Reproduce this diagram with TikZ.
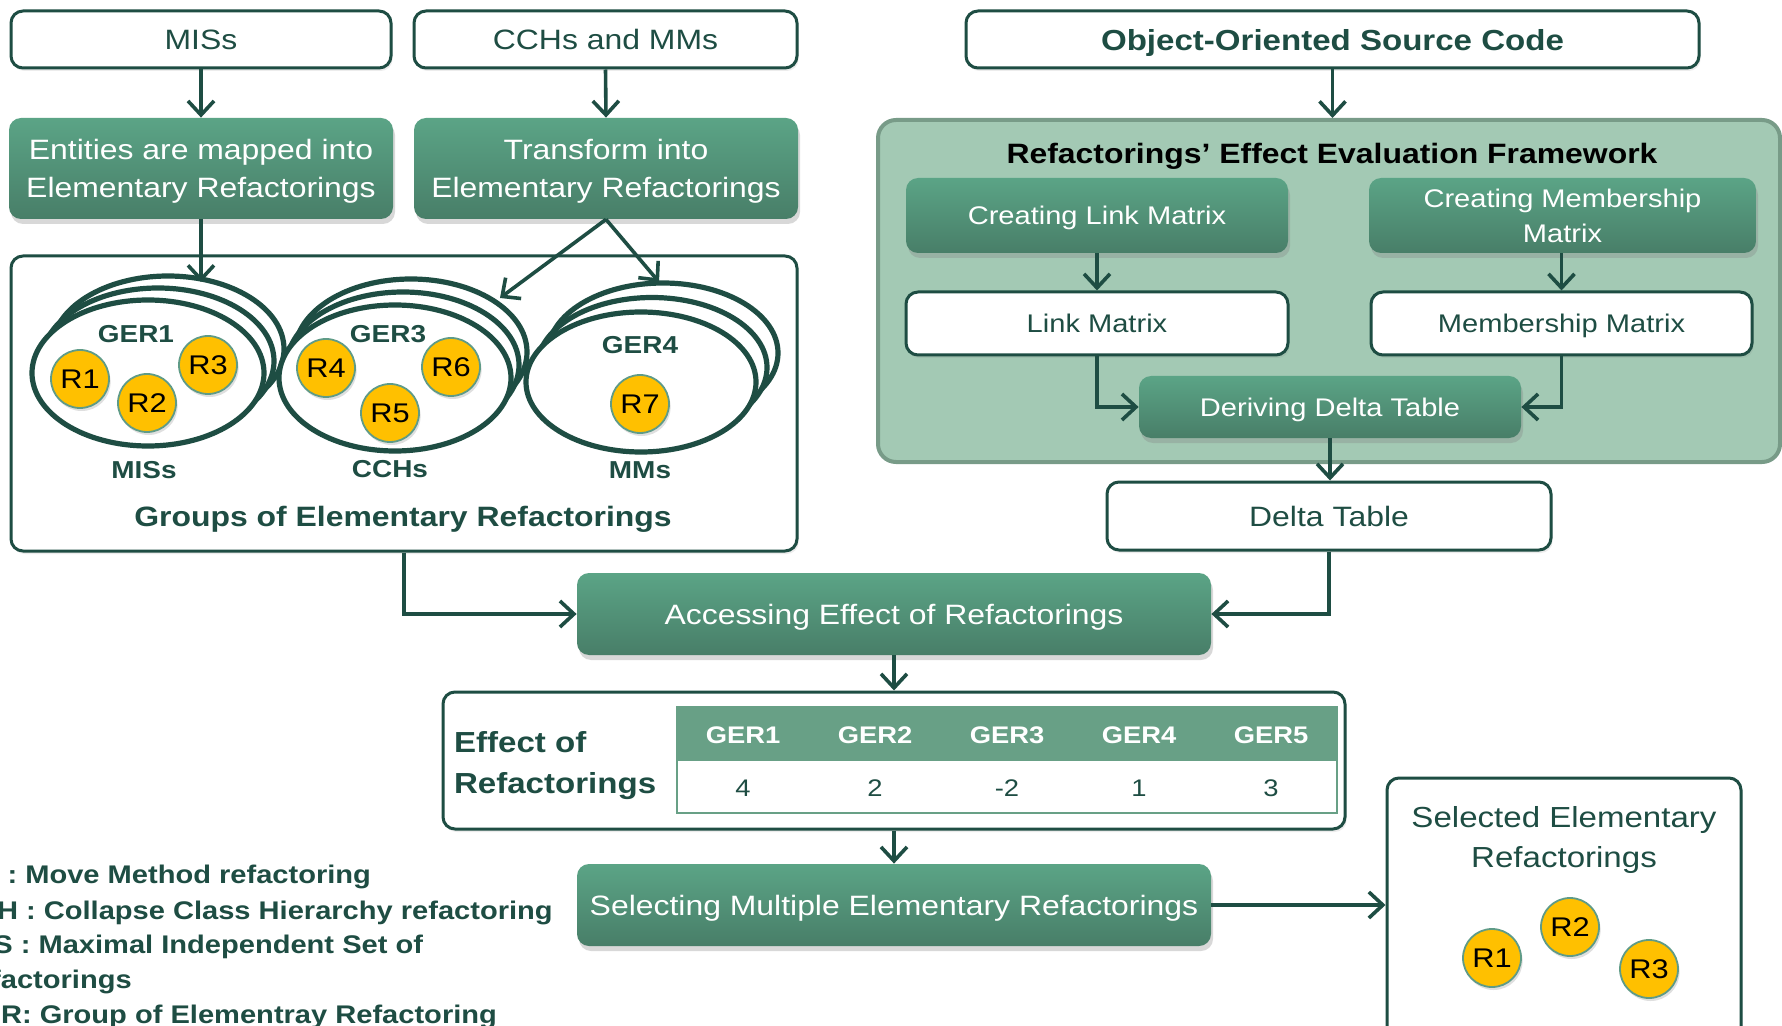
\documentclass[tikz,border=0pt]{standalone}
\usepackage{fontspec}
\setmainfont{Liberation Sans}[FakeStretch=1.14]
\usetikzlibrary{arrows.meta,shadows}
\definecolor{dkgreen}{RGB}{30,77,67}
\definecolor{gtop}{RGB}{91,164,134}
\definecolor{gbot}{RGB}{72,126,104}
\definecolor{fwbg}{RGB}{163,201,180}
\definecolor{fwborder}{RGB}{120,155,136}
\definecolor{hdr}{RGB}{104,160,134}
\definecolor{ylw}{RGB}{255,192,0}
\definecolor{cborder}{RGB}{95,155,135}
\newcommand{\fs}[2]{\fontsize{#1}{#2}\selectfont}
\begin{document}
\begin{tikzpicture}[x=0.5pt,y=-0.5pt,
  wbox/.style={draw=dkgreen, line width=1.5pt, fill=white, rounded corners=6pt, text=dkgreen, align=center, inner sep=0pt, text depth=0pt,
    drop shadow={shadow xshift=0.8pt, shadow yshift=-1.5pt, opacity=0.15}},
  gbox/.style={rounded corners=6pt, top color=gtop, bottom color=gbot, draw=none, text=white, align=center, inner sep=0pt, text depth=0pt,
    drop shadow={shadow xshift=1pt, shadow yshift=-2.5pt, opacity=0.3}},
  arr/.style={-{Straight Barb[length=7pt,width=13pt]}, line width=1.8pt, draw=dkgreen},
  rc/.style={circle, fill=ylw, draw=cborder, line width=0.9pt, minimum size=29pt, inner sep=0pt,
    font=\fs{13.5pt}{15pt}, text=black, drop shadow={shadow xshift=0.8pt, shadow yshift=-1.5pt, opacity=0.25}},
  ell/.style={draw=dkgreen, line width=2.6pt, fill=white},
  glabel/.style={font=\bfseries\fs{12.25pt}{14pt}, text=dkgreen},
  legend/.style={anchor=base west, font=\bfseries\fs{12.75pt}{15pt}, text=dkgreen},
  hcell/.style={font=\bfseries\fs{12pt}{14pt}, text=white, text depth=0pt},
  vcell/.style={font=\fs{12pt}{14pt}, text=dkgreen, text depth=0pt}
]
\clip (0,0) rectangle (1782,1026);
\fill[white] (0,0) rectangle (1782,1026);

% top row
\node[wbox, minimum width=190pt, minimum height=28.5pt, font=\fs{14pt}{18.75pt}] (mis) at (201,39.5) {MISs};
\node[wbox, minimum width=191.5pt, minimum height=28.5pt, font=\fs{14pt}{18.75pt}] (cch) at (605.5,39.5) {CCHs and MMs};
\node[wbox, minimum width=366.5pt, minimum height=28.5pt, font=\bfseries\fs{14.5pt}{18.75pt}] (oosc) at (1332.5,39.5) {Object-Oriented Source Code};

\node[gbox, minimum width=192pt, minimum height=50.5pt, font=\fs{14pt}{18.75pt}] (ent) at (201,168.5) {Entities are mapped into\\Elementary Refactorings};
\node[gbox, minimum width=192pt, minimum height=50.5pt, font=\fs{14pt}{18.75pt}] (trans) at (606,168.5) {Transform into\\Elementary Refactorings};

% groups box
\node[wbox, minimum width=393pt, minimum height=147.5pt] (groups) at (404,403.5) {};

% GER1
\draw[ell] (168,349) ellipse [x radius=58pt, y radius=36.5pt];
\draw[ell] (158,361) ellipse [x radius=58pt, y radius=36.5pt];
\draw[ell] (148,373) ellipse [x radius=58pt, y radius=36.5pt];
% GER3
\draw[ell] (411,352) ellipse [x radius=58pt, y radius=36.5pt];
\draw[ell] (403,365) ellipse [x radius=58pt, y radius=36.5pt];
\draw[ell] (395,378) ellipse [x radius=58pt, y radius=36.5pt];
% GER4
\draw[ell] (663,353) ellipse [x radius=57.5pt, y radius=35pt];
\draw[ell] (652,367.5) ellipse [x radius=57.5pt, y radius=35pt];
\draw[ell] (641,382) ellipse [x radius=57.5pt, y radius=35pt];

\node[glabel] (g1) at (136,334) {GER1};
\node[glabel] (g3) at (388,334) {GER3};
\node[glabel] (g4) at (640,345) {GER4};
\node[rc] (r1) at (80,379) {R1};
\node[rc] (r2) at (147,403) {R2};
\node[rc] (r3) at (208,365) {R3};
\node[rc] (r4) at (326,368) {R4};
\node[rc] (r5) at (390,413) {R5};
\node[rc] (r6) at (451,367) {R6};
\node[rc] (r7) at (640,404) {R7};
\node[glabel] (l1) at (144,470) {MISs};
\node[glabel] (l3) at (390,469) {CCHs};
\node[glabel] (l4) at (640,470) {MMs};
\node[font=\bfseries\fs{14pt}{18pt}, text=dkgreen] (gtitle) at (403,519) {Groups of Elementary Refactorings};

\coordinate (t1) at (201,282);
\coordinate (t3) at (500,298);
\coordinate (t4) at (659,282);

% framework
\node[draw=fwborder, line width=2pt, fill=fwbg, rounded corners=9pt, minimum width=451pt, minimum height=171pt, inner sep=0pt] (fw) at (1329,291) {};
\node[font=\bfseries\fs{14pt}{18pt}, text=black, text depth=0pt] (fwt) at (1332,153) {Refactorings’ Effect Evaluation Framework};
\node[gbox, minimum width=191pt, minimum height=37.5pt, font=\fs{12.75pt}{17.5pt}] (clm) at (1097,215.5) {Creating Link Matrix};
\node[gbox, minimum width=193.5pt, minimum height=37.5pt, font=\fs{12.75pt}{17.5pt}] (cmm) at (1562.5,215.5) {Creating Membership\\Matrix};
\node[wbox, minimum width=191pt, minimum height=31.5pt, font=\fs{12.75pt}{17.5pt}] (lm) at (1097,323.5) {Link Matrix};
\node[wbox, minimum width=190.5pt, minimum height=31.5pt, font=\fs{12.75pt}{17.5pt}] (mm) at (1561.5,323.5) {Membership Matrix};
\node[gbox, minimum width=191pt, minimum height=31pt, font=\fs{12.75pt}{17.5pt}] (der) at (1330,407) {Deriving Delta Table};
\node[wbox, minimum width=222pt, minimum height=34pt, font=\fs{14pt}{18pt}] (delta) at (1329,516) {Delta Table};

\node[gbox, minimum width=317pt, minimum height=41pt, font=\fs{14pt}{18pt}] (acc) at (894,614) {Accessing Effect of Refactorings};

% effect table
\node[wbox, minimum width=451pt, minimum height=68.5pt] (eff) at (894,760.5) {};
\node[anchor=west, align=left, font=\bfseries\fs{14.5pt}{20.5pt}, text=dkgreen, text depth=0pt] (efft) at (447,762) {Effect of\\Refactorings};
\fill[hdr] (677,707) rectangle (1337,761);
\draw[hdr, line width=1pt] (677,707) rectangle (1337,813);
\foreach \i/\g/\v in {0/GER1/4, 1/GER2/2, 2/GER3/-2, 3/GER4/1, 4/GER5/3}{
  \node[hcell] (h\i) at (743+132*\i,735) {\g};
  \node[vcell] (v\i) at (743+132*\i,788) {\v};
}

\node[gbox, minimum width=317pt, minimum height=41pt, font=\fs{14pt}{18pt}] (sel) at (894,905) {Selecting Multiple Elementary Refactorings};

% selected box
\node[wbox, minimum width=177pt, minimum height=131pt] (selbox) at (1564,909) {};
\node[align=center, font=\fs{14.5pt}{20pt}, text=dkgreen, text depth=0pt] (selt) at (1564,837) {Selected Elementary\\Refactorings};
\node[rc] (s1) at (1492,958) {R1};
\node[rc] (s2) at (1570,927) {R2};
\node[rc] (s3) at (1649,969) {R3};

% legend
\node[legend] (lg1) at (-56,883) {MM : Move Method refactoring};
\node[legend] (lg2) at (-52,919) {CCH : Collapse Class Hierarchy refactoring};
\node[legend] (lg3) at (-46,953) {MIS : Maximal Independent Set of};
\node[legend] (lg4) at (-53,988) {Refactorings};
\node[legend] (lg5) at (-48,1023) {GER: Group of Elementray Refactoring};

% connectors
\draw[arr] (mis.south) -- (ent.north);
\draw[arr] (cch.south) -- (trans.north);
\draw[arr] (oosc.south) -- (oosc.south |- fw.north);
\draw[arr] (ent.south) -- (t1);
\draw[arr] (trans.south) -- (t3);
\draw[arr] (trans.south) -- (t4);
\draw[arr] (clm.south) -- (lm.north);
\draw[arr] (cmm.south -| mm.north) -- (mm.north);
\draw[arr] (lm.south) |- (der.west);
\draw[arr] (mm.south) |- (der.east);
\draw[arr] (der.south) -- (der.south |- delta.north);
\draw[arr] (groups.south) |- (acc.west);
\draw[arr] (delta.south) |- (acc.east);
\draw[arr] (acc.south) -- (eff.north);
\draw[arr] (eff.south) -- (sel.north);
\draw[arr] (sel.east) -- (sel.east -| selbox.west);
\end{tikzpicture}
\end{document}
